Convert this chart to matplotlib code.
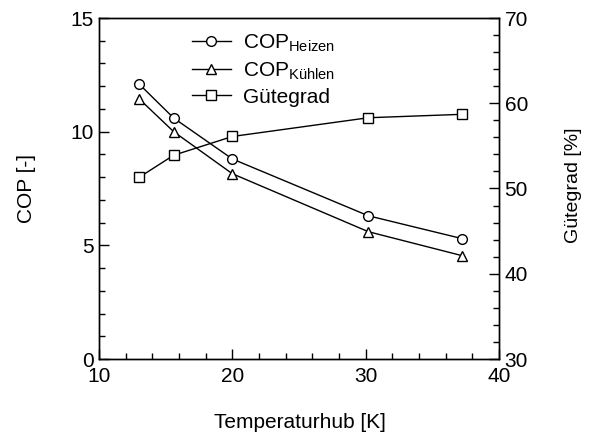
import matplotlib
matplotlib.use("Agg")
import matplotlib.pyplot as plt
from matplotlib.ticker import MultipleLocator

plt.rcParams["font.family"] = ["Liberation Sans", "DejaVu Sans"]
plt.rcParams["mathtext.fontset"] = "custom"
plt.rcParams["mathtext.rm"] = "Liberation Sans"
plt.rcParams["mathtext.it"] = "Liberation Sans"

# data
temp_lift = [13.0, 15.6, 20.0, 30.2, 37.2]
cop_heating = [12.1, 10.6, 8.8, 6.3, 5.3]
cop_cooling = [11.45, 10.0, 8.15, 5.6, 4.55]
quality_grade = [51.3, 53.9, 56.1, 58.3, 58.7]

fig = plt.figure(figsize=(5.93, 4.36), dpi=100)
ax = fig.add_axes([99 / 593, 1 - 359 / 436, 400 / 593, 341 / 436])
ax2 = ax.twinx()

mk = dict(color="black", lw=1, markerfacecolor="white", markeredgecolor="black",
          markersize=7, markeredgewidth=1)
l1, = ax.plot(temp_lift, cop_heating, marker="o", label=r"COP$_{\mathrm{Heizen}}$", **mk)
l2, = ax.plot(temp_lift, cop_cooling, marker="^", label=r"COP$_{\mathrm{Kühlen}}$", **mk)
l3, = ax2.plot(temp_lift, quality_grade, marker="s", label="Gütegrad", **mk)

ax.set_xlim(10, 40)
ax.set_ylim(0, 15)
ax2.set_ylim(30, 70)
ax.xaxis.set_major_locator(MultipleLocator(10))
ax.xaxis.set_minor_locator(MultipleLocator(2))
ax.yaxis.set_major_locator(MultipleLocator(5))
ax.yaxis.set_minor_locator(MultipleLocator(1))
ax2.yaxis.set_major_locator(MultipleLocator(10))
ax2.yaxis.set_minor_locator(MultipleLocator(2))

for a in (ax, ax2):
    a.tick_params(which="both", direction="in", labelsize=15, width=1)
    a.tick_params(which="major", length=7, pad=4)
    a.tick_params(which="minor", length=4)
    for s in a.spines.values():
        s.set_linewidth(1)
ax.tick_params(axis="x", pad=5.5)

# axis titles placed in figure pixels
fig.text(300 / 593, 8 / 436, "Temperaturhub [K]", fontsize=15, ha="center", va="baseline")
fig.text(26 / 593, 1 - 188 / 436, "COP [-]", fontsize=15, rotation=90, ha="center", va="center")
fig.text(573 / 593, 1 - 185 / 436, "Gütegrad [%]", fontsize=14, rotation=90, ha="center", va="center")

ax.legend(handles=[l1, l2, l3], loc="upper left", bbox_to_anchor=(0.2325, 0.957),
          frameon=False, fontsize=15, handlelength=1.85, handletextpad=0.6,
          labelspacing=0.3, borderaxespad=0, borderpad=0)

fig.savefig("out.png", dpi=100)
